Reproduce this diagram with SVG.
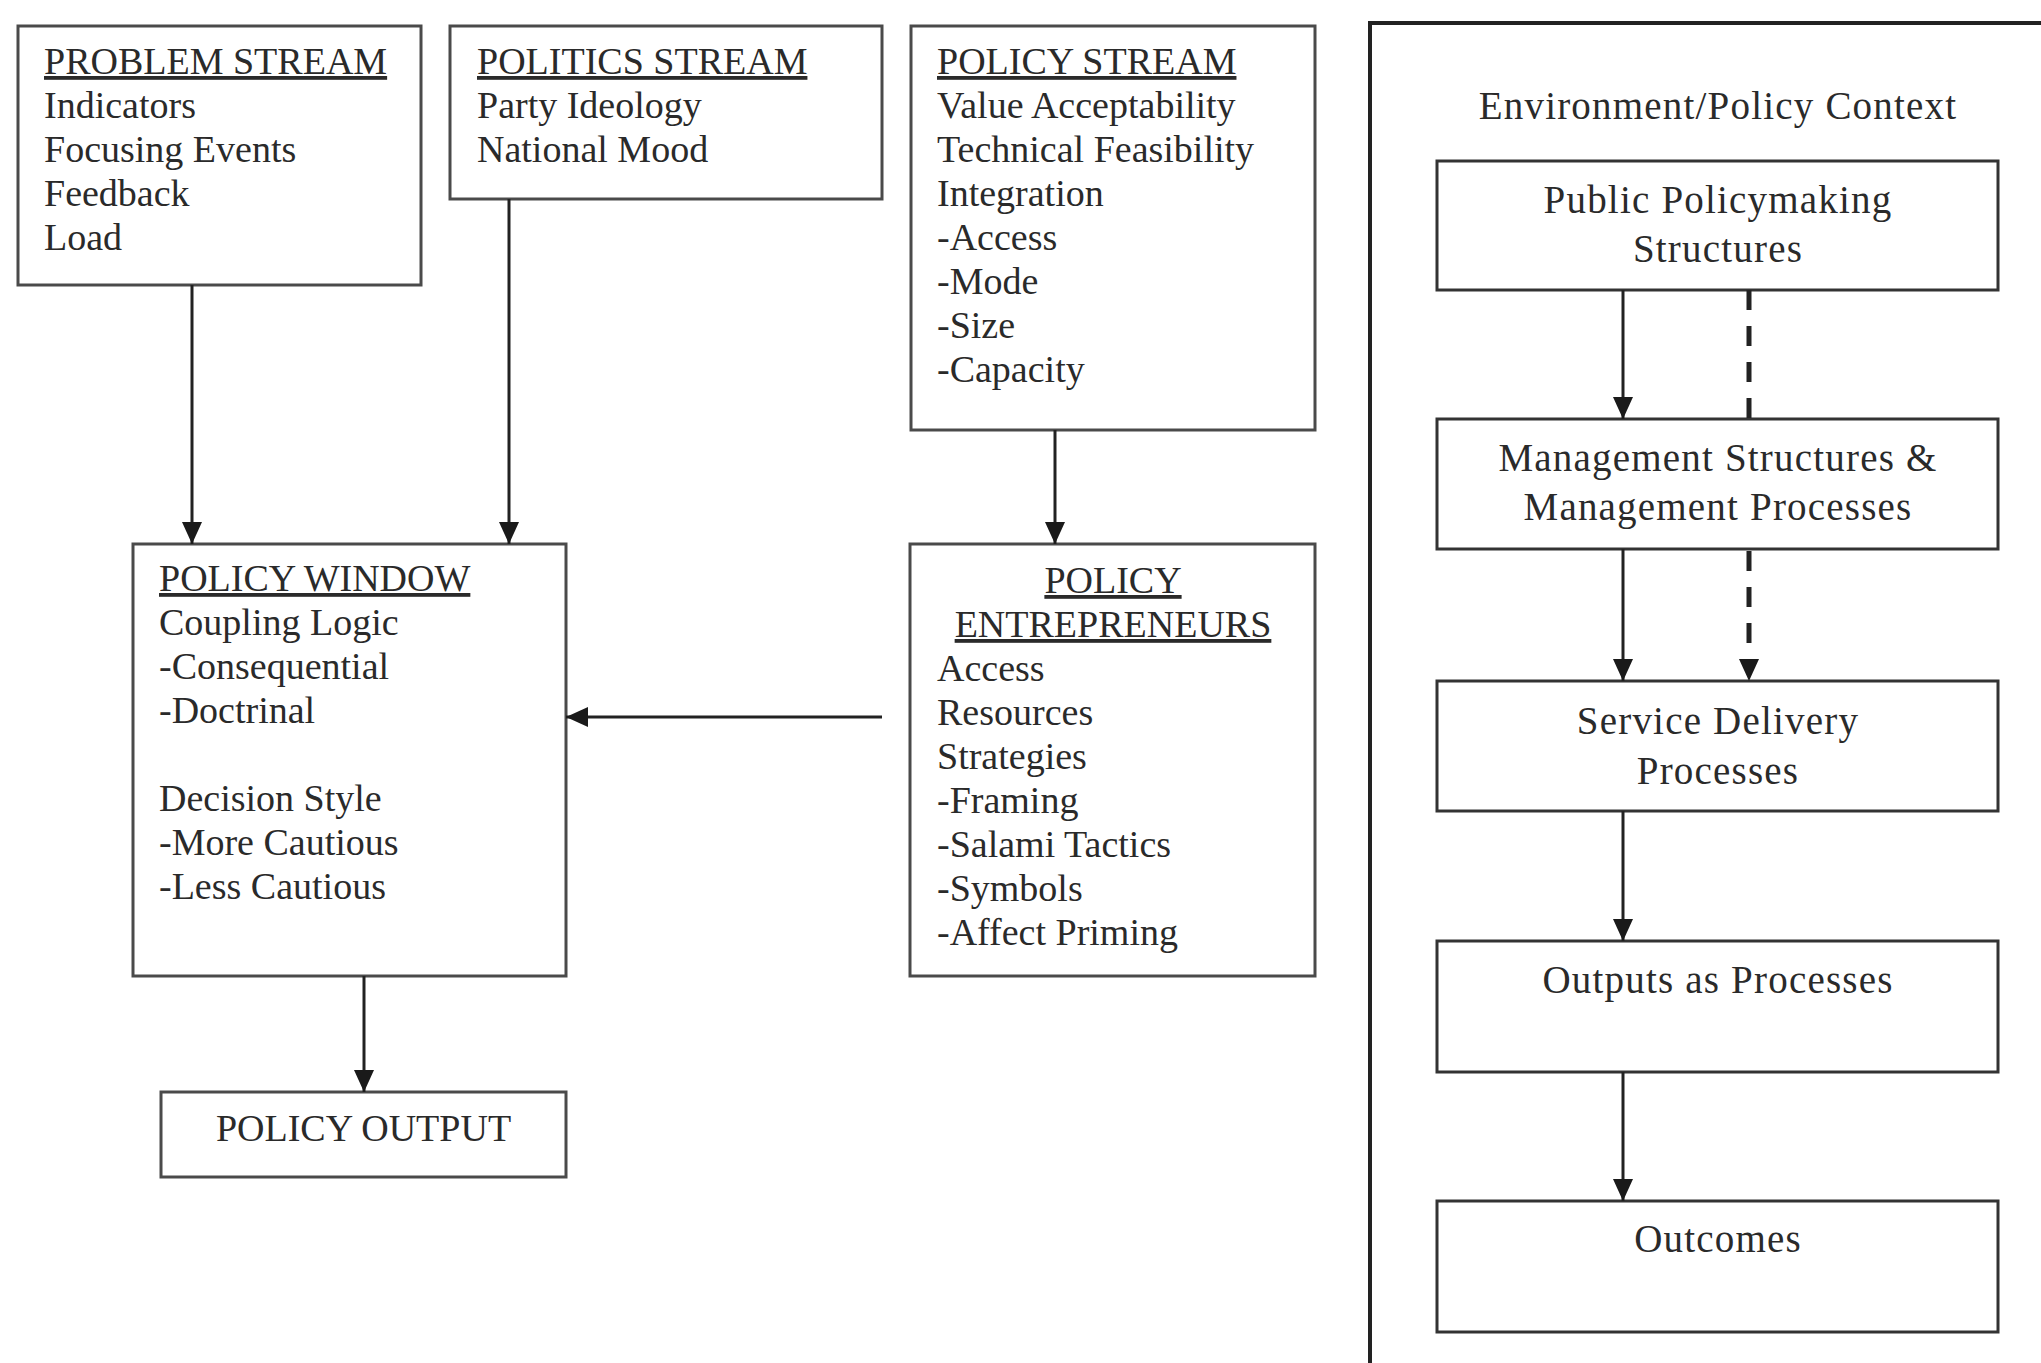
<svg xmlns="http://www.w3.org/2000/svg" width="2041" height="1363" viewBox="0 0 2041 1363">
  <style>
    .box { fill: #ffffff; stroke: #4a4a4a; stroke-width: 3; }
    .rbox { fill: #ffffff; stroke: #333333; stroke-width: 3; }
    .frame { fill: none; stroke: #222222; stroke-width: 4; }
    .t { font-family: "Liberation Serif", "Times New Roman", serif; font-size: 38px; fill: #2a2a2a; }
    .h { text-decoration: underline; }
    .c { text-anchor: middle; }
    .r { font-family: "Liberation Serif", "Times New Roman", serif; font-size: 39px; fill: #2a2a2a; text-anchor: middle; letter-spacing: 1.2px; }
    .edge { fill: none; stroke: #222222; stroke-width: 3; }
    .dash { fill: none; stroke: #222222; stroke-width: 5; stroke-dasharray: 20 16; }
  </style>
  <defs>
    <marker id="arrow" markerUnits="userSpaceOnUse" markerWidth="22" markerHeight="20" refX="22" refY="10" orient="auto">
      <path d="M0,0 L22,10 L0,20 Z" fill="#1a1a1a"/>
    </marker>
  </defs>

  <rect width="2041" height="1363" fill="#ffffff"/>

  <!-- Multiple streams side -->
  <g id="problem-stream">
    <rect class="box" x="18" y="26" width="403" height="259"/>
    <text class="t h" x="44" y="74">PROBLEM STREAM</text>
    <text class="t" x="44" y="118">Indicators</text>
    <text class="t" x="44" y="162">Focusing Events</text>
    <text class="t" x="44" y="206">Feedback</text>
    <text class="t" x="44" y="250">Load</text>
  </g>

  <g id="politics-stream">
    <rect class="box" x="450" y="26" width="432" height="173"/>
    <text class="t h" x="477" y="74">POLITICS STREAM</text>
    <text class="t" x="477" y="118">Party Ideology</text>
    <text class="t" x="477" y="162">National Mood</text>
  </g>

  <g id="policy-stream">
    <rect class="box" x="911" y="26" width="404" height="404"/>
    <text class="t h" x="937" y="74">POLICY STREAM</text>
    <text class="t" x="937" y="118">Value Acceptability</text>
    <text class="t" x="937" y="162">Technical Feasibility</text>
    <text class="t" x="937" y="206">Integration</text>
    <text class="t" x="937" y="250">-Access</text>
    <text class="t" x="937" y="294">-Mode</text>
    <text class="t" x="937" y="338">-Size</text>
    <text class="t" x="937" y="382">-Capacity</text>
  </g>

  <g id="policy-window">
    <rect class="box" x="133" y="544" width="433" height="432"/>
    <text class="t h" x="159" y="591">POLICY WINDOW</text>
    <text class="t" x="159" y="635">Coupling Logic</text>
    <text class="t" x="159" y="679">-Consequential</text>
    <text class="t" x="159" y="723">-Doctrinal</text>
    <text class="t" x="159" y="811">Decision Style</text>
    <text class="t" x="159" y="855">-More Cautious</text>
    <text class="t" x="159" y="899">-Less Cautious</text>
  </g>

  <g id="policy-entrepreneurs">
    <rect class="box" x="910" y="544" width="405" height="432"/>
    <text class="t h c" x="1113" y="593">POLICY</text>
    <text class="t h c" x="1113" y="637">ENTREPRENEURS</text>
    <text class="t" x="937" y="681">Access</text>
    <text class="t" x="937" y="725">Resources</text>
    <text class="t" x="937" y="769">Strategies</text>
    <text class="t" x="937" y="813">-Framing</text>
    <text class="t" x="937" y="857">-Salami Tactics</text>
    <text class="t" x="937" y="901">-Symbols</text>
    <text class="t" x="937" y="945">-Affect Priming</text>
  </g>

  <g id="policy-output">
    <rect class="box" x="161" y="1092" width="405" height="85"/>
    <text class="t c" x="363.5" y="1141">POLICY OUTPUT</text>
  </g>

  <!-- Implementation side, framed by its context -->
  <g id="policy-context">
    <rect class="frame" x="1370" y="23" width="800" height="1450"/>
    <text class="r" x="1718" y="119">Environment/Policy Context</text>
  </g>

  <g id="policymaking-structures">
    <rect class="rbox" x="1437" y="161" width="561" height="129"/>
    <text class="r" x="1718" y="213">Public Policymaking</text>
    <text class="r" x="1718" y="262">Structures</text>
  </g>

  <g id="management">
    <rect class="rbox" x="1437" y="419" width="561" height="130"/>
    <text class="r" x="1718" y="471">Management Structures &amp;</text>
    <text class="r" x="1718" y="520">Management Processes</text>
  </g>

  <g id="service-delivery">
    <rect class="rbox" x="1437" y="681" width="561" height="130"/>
    <text class="r" x="1718" y="734">Service Delivery</text>
    <text class="r" x="1718" y="784">Processes</text>
  </g>

  <g id="outputs">
    <rect class="rbox" x="1437" y="941" width="561" height="131"/>
    <text class="r" x="1718" y="993">Outputs as Processes</text>
  </g>

  <g id="outcomes">
    <rect class="rbox" x="1437" y="1201" width="561" height="131"/>
    <text class="r" x="1718" y="1252">Outcomes</text>
  </g>

  <!-- Connectors -->
  <g id="connectors">
    <line class="edge" x1="192" y1="285" x2="192" y2="544" marker-end="url(#arrow)"/>
    <line class="edge" x1="509" y1="199" x2="509" y2="544" marker-end="url(#arrow)"/>
    <line class="edge" x1="1055" y1="430" x2="1055" y2="544" marker-end="url(#arrow)"/>
    <line class="edge" x1="882" y1="717" x2="566" y2="717" marker-end="url(#arrow)"/>
    <line class="edge" x1="364" y1="976" x2="364" y2="1092" marker-end="url(#arrow)"/>

    <line class="edge" x1="1623" y1="290" x2="1623" y2="419" marker-end="url(#arrow)"/>
    <line class="dash" x1="1749" y1="290" x2="1749" y2="419"/>
    <line class="edge" x1="1623" y1="549" x2="1623" y2="681" marker-end="url(#arrow)"/>
    <line class="dash" x1="1749" y1="551" x2="1749" y2="660"/>
    <path d="M1739,659 L1759,659 L1749,681 Z" fill="#1a1a1a"/>
    <line class="edge" x1="1623" y1="811" x2="1623" y2="941" marker-end="url(#arrow)"/>
    <line class="edge" x1="1623" y1="1072" x2="1623" y2="1201" marker-end="url(#arrow)"/>
  </g>
</svg>
